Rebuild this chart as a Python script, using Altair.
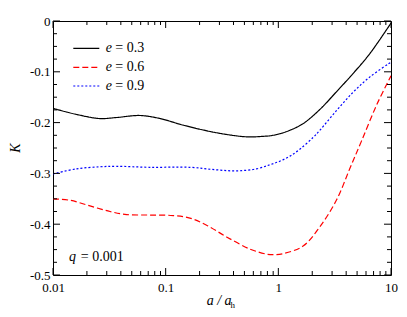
import altair as alt
import pandas as pd

# ---- data ----
e_labels = ["e = 0.3", "e = 0.6", "e = 0.9"]

a_03 = [0.01, 0.0162, 0.026, 0.0367, 0.059, 0.089, 0.143, 0.283, 0.523, 0.735, 0.842, 1.03, 1.27, 1.66, 2.34, 3.29, 4.62, 6.5, 10]
k_03 = [-0.172, -0.184, -0.192, -0.190, -0.186, -0.192, -0.205, -0.220, -0.228, -0.227, -0.226, -0.222, -0.215, -0.202, -0.174, -0.139, -0.103, -0.064, -0.004]

a_06 = [0.01, 0.0142, 0.0213, 0.0321, 0.0451, 0.0726, 0.117, 0.164, 0.231, 0.347, 0.56, 0.787, 0.92, 1.1, 1.66, 2.34, 3.29, 4.32, 5.48, 7.5, 10]
k_06 = [-0.350, -0.353, -0.364, -0.375, -0.381, -0.382, -0.383, -0.388, -0.402, -0.425, -0.449, -0.459, -0.460, -0.458, -0.443, -0.405, -0.352, -0.290, -0.236, -0.164, -0.108]

a_09 = [0.01, 0.0162, 0.026, 0.0367, 0.0726, 0.164, 0.283, 0.427, 0.641, 0.842, 1.03, 1.27, 1.56, 2.04, 2.34, 3.29, 4.62, 6.5, 10]
k_09 = [-0.301, -0.291, -0.287, -0.286, -0.288, -0.288, -0.293, -0.295, -0.291, -0.283, -0.276, -0.266, -0.252, -0.229, -0.215, -0.176, -0.140, -0.110, -0.081]

x_major = [0.01, 0.1, 1, 10]
x_minor = [m * d for d in (0.01, 0.1, 1) for m in range(2, 10)]
y_major = [0, -0.1, -0.2, -0.3, -0.4, -0.5]
y_minor = [-0.025, -0.05, -0.075, -0.125, -0.15, -0.175, -0.225, -0.25, -0.275,
           -0.325, -0.35, -0.375, -0.425, -0.45, -0.475]

colors = ["#000000", "#ff0000", "#0000ff"]
dashes = [[1, 0], [6, 3], [2, 2]]

rows = []
for lab, xs, ks in zip(e_labels, [a_03, a_06, a_09], [k_03, k_06, k_09]):
    for a, k in zip(xs, ks):
        rows.append({"e": lab, "a": a, "K": k})
df = pd.DataFrame(rows)

W, H = 338, 254
FONT = "Liberation Serif"
xscale = alt.Scale(type="log", domain=[0.01, 10], nice=False)
yscale = alt.Scale(domain=[-0.5, 0], nice=False, zero=False)

lines = alt.Chart(df).mark_line(strokeWidth=1.2, interpolate="catmull-rom", clip=True).encode(
    x=alt.X("a:Q", scale=xscale,
            axis=alt.Axis(values=x_major, labelExpr="format(datum.value, '~g')",
                          labelFont=FONT, labelFontSize=13, labelColor="black",
                          domain=False, ticks=False, grid=False, labelPadding=6,
                          title=None, labelFlush=False)),
    y=alt.Y("K:Q", scale=yscale,
            axis=alt.Axis(values=y_major,
                          labelExpr="datum.value == 0 ? '0' : '-' + format(-datum.value, '.1f')",
                          labelFont=FONT, labelFontSize=13, labelColor="black",
                          domain=False, ticks=False, grid=False, labelPadding=3,
                          title=None, labelFlush=False)),
    color=alt.Color("e:N", scale=alt.Scale(domain=e_labels, range=colors), legend=None),
    strokeDash=alt.StrokeDash("e:N", scale=alt.Scale(domain=e_labels, range=dashes), legend=None),
    detail="e:N",
)

xmaj_df = pd.DataFrame({"a": x_major})
xmin_df = pd.DataFrame({"a": x_minor})
ymaj_df = pd.DataFrame({"K": y_major})
ymin_df = pd.DataFrame({"K": y_minor})

def xticks(d, L):
    b = alt.Chart(d).mark_rule(color="black", strokeWidth=1).encode(
        x=alt.X("a:Q", scale=xscale), y=alt.value(H), y2=alt.value(H - L))
    t = alt.Chart(d).mark_rule(color="black", strokeWidth=1).encode(
        x=alt.X("a:Q", scale=xscale), y=alt.value(0), y2=alt.value(L))
    return b + t

def yticks(d, L):
    l = alt.Chart(d).mark_rule(color="black", strokeWidth=1).encode(
        y=alt.Y("K:Q", scale=yscale), x=alt.value(0), x2=alt.value(L))
    r = alt.Chart(d).mark_rule(color="black", strokeWidth=1).encode(
        y=alt.Y("K:Q", scale=yscale), x=alt.value(W), x2=alt.value(W - L))
    return l + r

one = pd.DataFrame({"k": [0]})

def txt(s, x, y, size=14, italic=False, angle=0, align="left", baseline="middle"):
    kw = dict(text=s, font=FONT, fontSize=size, color="black", align=align, baseline=baseline)
    if italic:
        kw["fontStyle"] = "italic"
    if angle:
        kw["angle"] = angle
    return alt.Chart(one).mark_text(**kw).encode(x=alt.value(x), y=alt.value(y))

legend_y = [27.3, 46.3, 65.0]
legend_vals = ["= 0.3", "= 0.6", "= 0.9"]
leg = []
for i in range(3):
    leg.append(alt.Chart(one).mark_rule(color=colors[i], strokeWidth=1.2, strokeDash=dashes[i]).encode(
        x=alt.value(20.3), x2=alt.value(46.3), y=alt.value(legend_y[i])))
    leg.append(txt("e", 52.7, legend_y[i], italic=True))
    leg.append(txt(legend_vals[i], 62.3, legend_y[i]))

annots = [
    txt("q", 16, 236, italic=True),
    txt("= 0.001", 27.8, 236),
    txt("a / a", 153.7, 284, italic=True, baseline="alphabetic"),
    txt("h", 177.5, 287, size=9, baseline="alphabetic"),
    txt("K", -37, 127, italic=True, angle=270, align="center"),
]

chart = alt.layer(
    lines,
    xticks(xmaj_df, 7), xticks(xmin_df, 4),
    yticks(ymaj_df, 7), yticks(ymin_df, 4),
    *leg, *annots,
).properties(
    width=W, height=H,
    autosize=alt.AutoSizeParams(type="none"),
    padding={"left": 45, "top": 13, "right": 8, "bottom": 34},
    background="white",
).configure_view(stroke="black", strokeWidth=1)

chart.save("out.html", embed_options={"renderer": "svg", "actions": False})
